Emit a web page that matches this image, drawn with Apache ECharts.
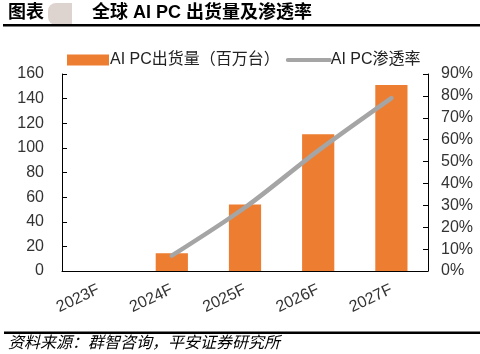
<!DOCTYPE html>
<html>
<head>
<meta charset="utf-8">
<script src="https://cdn.jsdelivr.net/npm/echarts@6/dist/echarts.min.js"></script>
<style>
  html, body { margin: 0; padding: 0; background: #fff; }
  #chart { width: 480px; height: 354px; }
</style>
</head>
<body>
<div id="chart"></div>
<script>
// chart data
const categories = ['2023F', '2024F', '2025F', '2026F', '2027F']
const shipments = [null, 14.5, 54, 111, 151]
const penetration = [null, 7, 29, 55, 79]
const leftMax = 160
const rightMax = 90

const font = '"Liberation Sans", Arial, "Noto Sans CJK SC", sans-serif'
const chart = echarts.init(document.getElementById('chart'))

chart.setOption({
  animation: false,
  textStyle: { fontFamily: font },
  graphic: [
    { type: 'text', left: 8, top: 4, style: { text: '图表', font: 'bold 18px ' + font, fill: '#000' } },
    { type: 'rect', shape: { x: 48, y: 3, width: 24, height: 22, r: [8, 0, 0, 8] }, style: { fill: '#ddd4cf' } },
    { type: 'text', left: 92, top: 4, style: { text: '全球 AI PC 出货量及渗透率', font: 'bold 18px ' + font, fill: '#000' } },
    { type: 'rect', shape: { x: 3, y: 24, width: 477, height: 2.5 }, style: { fill: '#000' } },
    { type: 'rect', shape: { x: 4, y: 331.5, width: 476, height: 2.5 }, style: { fill: '#000' } },
    { type: 'text', left: 8, top: 336, style: { text: '资料来源：群智咨询，平安证券研究所', font: 'italic 16px ' + font, fill: '#000' } }
  ],
  legend: {
    left: 62,
    top: 47,
    itemWidth: 42,
    itemHeight: 11,
    itemGap: 6,
    textStyle: { fontSize: 16, color: '#222', padding: [0, 0, 0, -4] },
    data: [
      { name: 'AI PC出货量（百万台）', icon: 'rect' },
      { name: 'AI PC渗透率', itemStyle: { opacity: 0 }, lineStyle: { color: '#A5A5A5', width: 4, opacity: 1 } }
    ]
  },
  grid: { left: 62, right: 52, top: 74, bottom: 83 },
  xAxis: {
    type: 'category',
    data: categories,
    axisLine: { lineStyle: { color: '#000', width: 1 } },
    axisTick: { inside: true, length: 4, lineStyle: { color: '#000' } },
    axisLabel: { rotate: 25, fontSize: 16, color: '#333', margin: 18 }
  },
  yAxis: [
    {
      type: 'value',
      min: 0,
      max: leftMax,
      interval: 20,
      splitLine: { show: false },
      axisLine: { show: true, lineStyle: { color: '#000' } },
      axisTick: { show: true, inside: true, length: 5, lineStyle: { color: '#000' } },
      axisLabel: { fontSize: 16, color: '#333', margin: 18 }
    },
    {
      type: 'value',
      min: 0,
      max: rightMax,
      interval: 10,
      splitLine: { show: false },
      axisLine: { show: true, lineStyle: { color: '#000' } },
      axisTick: { show: true, inside: true, length: 5, lineStyle: { color: '#000' } },
      axisLabel: { fontSize: 16, color: '#333', margin: 13, formatter: '{value}%' }
    }
  ],
  series: [
    {
      name: 'AI PC出货量（百万台）',
      type: 'bar',
      data: shipments,
      barWidth: '44%',
      itemStyle: { color: '#ED7D31' }
    },
    {
      name: 'AI PC渗透率',
      type: 'line',
      yAxisIndex: 1,
      data: penetration,
      smooth: 0.3,
      symbol: 'none',
      lineStyle: { color: '#A5A5A5', width: 4.5, cap: 'round' },
      itemStyle: { color: '#A5A5A5' }
    }
  ]
})
</script>
</body>
</html>
